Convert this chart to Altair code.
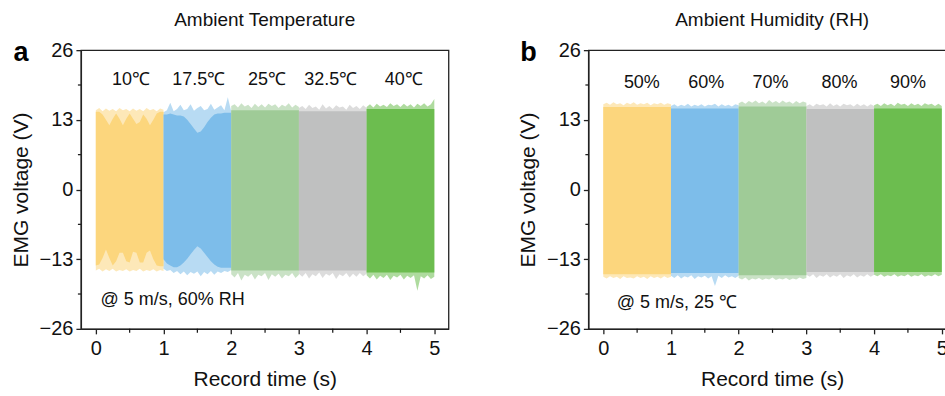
import altair as alt
import pandas as pd

# ---------------- data ----------------
SEG_A = ["10℃", "17.5℃", "25℃", "32.5℃", "40℃"]
SEG_B = ["50%", "60%", "70%", "80%", "90%"]
COLORS = ["#FCD67D", "#7DBDEA", "#9FCB97", "#BFC0C0", "#6CBD4F"]

# sample times within each 1-s recording segment
PHASE = [0.0, 0.05, 0.1, 0.15, 0.2, 0.25, 0.3, 0.35, 0.4, 0.45, 0.5,
         0.55, 0.6, 0.65, 0.7, 0.75, 0.8, 0.85, 0.9, 0.95, 1.0]
PHASE3 = [0.0, 0.5, 1.0]

# panel a: upper / lower envelope of the EMG signal (V)
TOP_A = [
    [14.8, 15.2, 14.6, 15.1, 14.7, 15.0, 14.6, 15.2, 14.8, 15.0, 14.6, 15.1, 14.7, 15.0, 14.6, 15.2, 14.8, 15.0, 14.6, 15.1, 14.9],
    [14.4, 14.8, 16.2, 14.6, 15.0, 15.8, 14.8, 15.0, 15.9, 14.7, 15.2, 15.6, 14.8, 15.0, 16.0, 14.9, 15.3, 15.7, 14.8, 17.2, 14.6],
    [15.6, 15.9, 15.3, 16.1, 15.5, 15.8, 15.2, 16.0, 15.4, 15.9, 15.3, 16.0, 15.6, 15.9, 15.2, 15.8, 15.5, 16.1, 15.3, 15.8, 15.4],
    [15.2, 15.6, 15.0, 15.8, 15.2, 15.5, 14.9, 15.9, 15.1, 15.6, 15.0, 15.7, 15.3, 15.5, 14.9, 15.8, 15.2, 15.6, 15.0, 15.7, 15.2],
    [15.4, 15.9, 15.3, 16.0, 15.5, 15.8, 15.4, 16.1, 15.6, 15.9, 15.4, 16.0, 15.5, 15.9, 15.3, 16.0, 15.6, 16.1, 15.5, 15.9, 16.9],
]
BOT_A = [
    [-15.1, -14.8, -15.3, -14.9, -15.2, -14.8, -15.3, -15.0, -15.2, -14.9, -15.3, -15.0, -15.2, -14.8, -15.3, -15.0, -15.2, -14.9, -15.3, -15.0, -15.2],
    [-14.8, -15.2, -15.0, -15.6, -15.2, -15.8, -15.3, -16.0, -15.4, -15.7, -15.3, -16.2, -15.4, -15.8, -15.2, -15.9, -15.3, -15.6, -15.2, -15.4, -15.0],
    [-15.8, -16.4, -15.6, -17.0, -15.9, -16.3, -15.7, -16.8, -15.9, -16.2, -15.6, -16.9, -15.8, -16.3, -15.7, -16.6, -15.9, -16.2, -15.6, -16.5, -15.9],
    [-15.7, -16.3, -15.6, -16.6, -15.8, -16.2, -15.5, -16.5, -15.7, -16.1, -15.6, -16.7, -15.8, -16.2, -15.6, -16.4, -15.7, -16.3, -15.6, -16.2, -15.7],
    [-16.0, -16.6, -15.9, -16.8, -16.1, -16.5, -15.9, -16.9, -16.1, -16.4, -15.9, -16.8, -16.1, -16.5, -16.0, -18.9, -16.2, -16.6, -16.0, -16.7, -16.3],
]
# panel a: densely filled core of each segment (phases, top, bottom)
CORE_A = [
    (PHASE,
     [14.5, 14.5, 14.0, 13.0, 12.0, 13.2, 14.2, 13.2, 12.0, 13.2, 14.2, 13.2, 12.2, 12.6, 14.0, 13.2, 12.0, 13.0, 14.2, 14.5, 14.5],
     [-14.2, -14.0, -12.8, -11.2, -12.8, -14.2, -13.4, -11.8, -11.8, -13.4, -13.6, -11.6, -11.8, -13.6, -13.6, -11.8, -11.4, -13.0, -14.2, -14.3, -14.3]),
    (PHASE,
     [14.0, 14.0, 14.2, 14.0, 13.8, 13.8, 13.6, 13.0, 12.2, 11.4, 10.6, 10.8, 11.6, 12.6, 13.4, 14.0, 14.2, 14.2, 14.3, 14.3, 14.3],
     [-13.0, -13.8, -14.2, -14.5, -14.5, -14.2, -13.6, -12.9, -12.1, -11.3, -10.6, -11.0, -11.8, -12.6, -13.4, -14.0, -14.4, -14.6, -14.6, -14.6, -14.6]),
    (PHASE3, [14.8, 14.8, 14.8], [-15.1, -15.1, -15.1]),
    (PHASE3, [14.6, 14.6, 14.6], [-15.1, -15.1, -15.1]),
    (PHASE3, [15.0, 15.0, 15.0], [-15.5, -15.5, -15.5]),
]

# panel b
TOP_B = [
    [15.9, 16.2, 15.8, 16.3, 15.9, 16.1, 15.7, 16.2, 15.9, 16.3, 15.8, 16.1, 15.9, 16.2, 15.7, 16.1, 15.9, 16.2, 15.8, 16.1, 15.9],
    [15.6, 15.9, 15.5, 15.8, 15.6, 16.0, 15.5, 15.8, 15.6, 15.9, 15.5, 15.8, 15.7, 16.0, 15.5, 15.9, 15.6, 15.8, 15.5, 15.9, 15.7],
    [16.1, 16.4, 16.0, 16.5, 16.2, 16.6, 16.1, 16.4, 16.0, 16.7, 16.2, 16.5, 16.1, 16.6, 16.2, 16.4, 16.0, 16.5, 16.1, 16.4, 16.2],
    [15.6, 15.9, 15.5, 16.0, 15.7, 15.9, 15.5, 16.1, 15.6, 15.9, 15.5, 16.0, 15.7, 15.9, 15.5, 16.0, 15.6, 15.9, 15.5, 15.9, 15.6],
    [15.7, 16.0, 15.6, 16.1, 15.7, 16.0, 15.6, 16.2, 15.8, 16.0, 15.6, 16.1, 15.7, 16.0, 15.6, 16.1, 15.8, 16.0, 15.6, 16.0, 15.6],
]
BOT_B = [
    [-16.3, -16.6, -16.2, -16.5, -16.3, -16.7, -16.2, -16.5, -16.4, -16.6, -16.2, -16.5, -16.3, -16.7, -16.2, -16.5, -16.3, -16.6, -16.2, -16.5, -16.3],
    [-16.1, -16.5, -16.0, -16.6, -16.2, -16.4, -16.0, -16.7, -16.2, -16.4, -16.1, -16.6, -16.2, -18.0, -16.1, -16.5, -16.0, -16.4, -16.2, -16.5, -16.1],
    [-16.5, -16.8, -16.4, -17.0, -16.6, -16.8, -16.5, -16.9, -16.6, -16.8, -16.4, -16.9, -16.6, -16.8, -16.5, -16.9, -16.6, -16.8, -16.4, -16.7, -16.5],
    [-15.9, -16.3, -15.8, -16.5, -16.0, -16.3, -15.8, -16.4, -16.0, -16.3, -15.8, -16.5, -16.0, -16.3, -15.8, -16.4, -16.0, -16.3, -15.8, -16.3, -15.9],
    [-15.9, -16.2, -15.8, -16.3, -16.0, -16.2, -15.8, -16.3, -16.0, -16.2, -15.8, -16.3, -16.0, -16.2, -15.8, -16.3, -16.0, -16.2, -15.8, -16.2, -15.9],
]
CORE_B = [
    (PHASE3, [15.4, 15.4, 15.4], [-15.8, -15.8, -15.8]),
    (PHASE3, [15.1, 15.1, 15.1], [-15.6, -15.6, -15.6]),
    (PHASE3, [15.5, 15.5, 15.5], [-16.0, -16.0, -16.0]),
    (PHASE3, [15.0, 15.0, 15.0], [-15.4, -15.4, -15.4]),
    (PHASE3, [15.1, 15.1, 15.1], [-15.4, -15.4, -15.4]),
]

LABEL_X_A = [0.52, 1.52, 2.53, 3.47, 4.55]
LABEL_Y_A = 20.4
LABEL_X_B = [0.57, 1.52, 2.47, 3.49, 4.50]
LABEL_Y_B = 19.9

X_TICKS = [0, 1, 2, 3, 4, 5]
X_MINOR = [0.5, 1.5, 2.5, 3.5, 4.5]
Y_TICKS = [-26, -13, 0, 13, 26]
Y_MINOR = [-19.5, -6.5, 6.5, 19.5]

# ---------------- styling ----------------
FONT = "Liberation Sans"
W, H = 368, 279
XS = alt.Scale(domain=[-0.22, 5.21], nice=False, zero=False)
YS = alt.Scale(domain=[-26, 26], nice=False, zero=False)
XAX = alt.Axis(values=X_TICKS, format="d", title="Record time (s)")
YAX = alt.Axis(values=Y_TICKS, format="d", title="EMG voltage (V)")


def build_frames(segs, tops, bots, cores):
    outer, core = [], []
    for i, s in enumerate(segs):
        for p, tv, bv in zip(PHASE, tops[i], bots[i]):
            outer.append({"seg": s, "t": i + p, "top": tv, "bot": bv})
        ph, ct, cb = cores[i]
        for p, tv, bv in zip(ph, ct, cb):
            core.append({"seg": s, "t": i + p, "top": tv, "bot": bv})
    return pd.DataFrame(outer), pd.DataFrame(core)


def panel(segs, tops, bots, cores, lab_x, lab_y, note, note_x, note_y, letter, title):
    outer, core = build_frames(segs, tops, bots, cores)
    cscale = alt.Scale(domain=segs, range=COLORS)
    x = alt.X("t:Q", scale=XS, axis=XAX)
    y = alt.Y("top:Q", scale=YS, axis=YAX)

    l_outer = alt.Chart(outer).mark_area(opacity=0.55).encode(
        x=x, y=y, y2="bot:Q", color=alt.Color("seg:N", scale=cscale, legend=None))
    l_core = alt.Chart(core).mark_area(opacity=1).encode(
        x=x, y=y, y2="bot:Q", color=alt.Color("seg:N", scale=cscale, legend=None))

    ymin = alt.Chart(pd.DataFrame({"top": Y_MINOR})).mark_rule(
        color="#111", strokeWidth=1.2).encode(y=y, x=alt.value(0), x2=alt.value(-3))
    xmin = alt.Chart(pd.DataFrame({"t": X_MINOR})).mark_rule(
        color="#111", strokeWidth=1.2).encode(x=x, y=alt.value(H), y2=alt.value(H + 4))

    labs = alt.Chart(pd.DataFrame({"t": lab_x, "top": [lab_y] * len(segs), "txt": segs})).mark_text(
        font=FONT, fontSize=18, color="#111", baseline="middle", align="center").encode(
        x=x, y=y, text="txt:N")
    nt = alt.Chart(pd.DataFrame({"t": [note_x], "top": [note_y], "txt": [note]})).mark_text(
        font=FONT, fontSize=18, color="#111", baseline="middle", align="left").encode(
        x=x, y=y, text="txt:N")
    let = alt.Chart(pd.DataFrame({"txt": [letter]})).mark_text(
        font=FONT, fontSize=27, fontWeight="bold", color="#000", baseline="alphabetic",
        align="center").encode(text="txt:N", x=alt.value(-60), y=alt.value(11))

    return alt.layer(l_outer, l_core, ymin, xmin, labs, nt, let).properties(
        width=W, height=H,
        title=alt.Title(title, font=FONT, fontSize=19, fontWeight="normal",
                        color="#111", anchor="middle", offset=9))


pa = panel(SEG_A, TOP_A, BOT_A, CORE_A, LABEL_X_A, LABEL_Y_A,
           "@ 5 m/s, 60% RH", 0.07, -20.7, "a", "Ambient Temperature")
pb = panel(SEG_B, TOP_B, BOT_B, CORE_B, LABEL_X_B, LABEL_Y_B,
           "@ 5 m/s, 25 ℃", 0.20, -21.2, "b", "Ambient Humidity (RH)")

chart = alt.hconcat(pa, pb, spacing=140, bounds="flush").properties(
    padding={"left": 9, "top": 10, "right": -12, "bottom": 0}
).configure_view(
    stroke="#222", strokeWidth=1.3
).configure_axis(
    labelFont=FONT, labelFontSize=20, labelColor="#111",
    titleFont=FONT, titleFontSize=21, titleFontWeight="normal", titleColor="#111",
    domainColor="#222", domainWidth=1.3, tickColor="#222", tickWidth=1.3,
    tickSize=5, labelPadding=3, titlePadding=8, grid=False
).configure_axisX(
    labelPadding=5, titlePadding=10
)

chart.save("out.html", embed_options={"renderer": "svg", "actions": False})
